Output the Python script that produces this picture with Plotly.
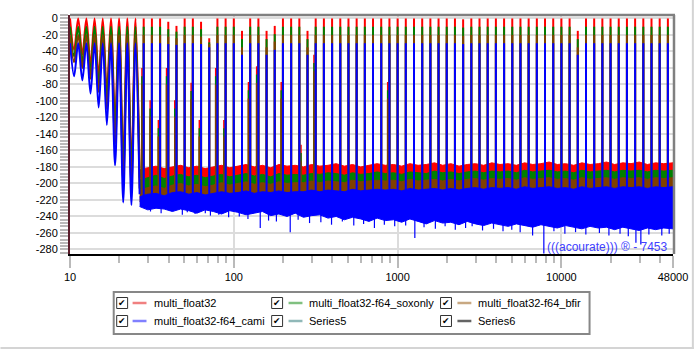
import math
import plotly.graph_objects as go

# ---------------------------------------------------------------- data
series_names = ["multi_float32", "multi_float32-f64_soxonly", "multi_float32-f64_bfir",
                "multi_float32-f64_cami", "Series5", "Series6"]
line_colors = ["#ff0000", "#008000", "#804000", "#0000ff"]
swatch_colors = ["#f08080", "#80c080", "#c8a882", "#8080ff", "#90b8b8", "#646464"]

# multitone frequencies, 20 per decade (Hz)
tone_freq = [10.0, 11.22, 12.59, 14.13, 15.85, 17.78, 19.95, 22.39, 25.12, 28.18,
             31.62, 35.48, 39.81, 44.67, 50.12, 56.23, 63.10, 70.79, 79.43, 89.13,
             100.0, 112.2, 125.9, 141.3, 158.5, 177.8, 199.5, 223.9, 251.2, 281.8,
             316.2, 354.8, 398.1, 446.7, 501.2, 562.3, 631.0, 707.9, 794.3, 891.3,
             1000, 1122, 1259, 1413, 1585, 1778, 1995, 2239, 2512, 2818,
             3162, 3548, 3981, 4467, 5012, 5623, 6310, 7079, 7943, 8913,
             10000, 11220, 12589, 14125, 15849, 17783, 19953, 22387, 25119, 28184,
             31623, 35481, 39811, 44668]

# tone peak levels (dB)
red_peak = [0, 0, 0, 0, 0, 0, 0, 0, 0, 0,
            0, 0, -4, -9, 0, 0, -4, -24, 0, 0,
            0, -15, 0, 0, -15, -9, 0, 0, 0, -15,
            0, 0, 0, 0, 0, 0, 0, 0, 0, 0,
            0, 0, 0, 0, 0, 0, 0, 0, -1, 0,
            0, 0, 0, 0, 0, 0, 0, 0, 0, 0,
            0, 0, -15, 0, 0, 0, 0, 0, 0, 0,
            0, 0, 0, 0]
green_peak = [-10, -10, -10, -10, -10, -10, -10, -10, -10, -10,
              -10, -10, -13, -16, -10, -10, -13, -29, -10, -10,
              -10, -25, -10, -10, -25, -19, -10, -10, -10, -25,
              -10, -10, -10, -10, -10, -10, -10, -10, -10, -10,
              -10, -10, -10, -10, -10, -10, -10, -10, -11, -10,
              -10, -10, -10, -10, -10, -10, -10, -10, -10, -10,
              -10, -10, -25, -10, -10, -10, -10, -10, -10, -10,
              -10, -10, -10, -10]
brown_peak = [-20, -20, -20, -20, -20, -20, -20, -20, -20, -20,
              -20, -20, -22, -24, -20, -20, -22, -31, -20, -20,
              -20, -35, -20, -20, -35, -28, -20, -20, -20, -35,
              -20, -20, -20, -20, -20, -20, -20, -20, -20, -20,
              -20, -20, -20, -20, -20, -20, -20, -20, -21, -20,
              -20, -20, -20, -20, -20, -20, -20, -20, -20, -20,
              -20, -20, -35, -20, -20, -20, -20, -20, -20, -20,
              -20, -20, -20, -20]
blue_peak = [-30, -30, -30, -30, -30, -30, -30, -30, -30, -30,
             -30, -30, -31, -32, -30, -30, -31, -35, -30, -30,
             -30, -44, -30, -30, -44, -38, -30, -30, -30, -44,
             -30, -30, -30, -30, -30, -30, -30, -30, -30, -30,
             -30, -30, -30, -30, -30, -30, -30, -30, -31, -30,
             -30, -30, -30, -30, -30, -30, -30, -30, -30, -30,
             -30, -30, -44, -30, -30, -30, -30, -30, -30, -30,
             -30, -30, -30, -30]

# minima between the lowest tones (Hz, dB)
dip_freq = [10.59, 11.89, 13.34, 14.96, 16.79, 18.84, 21.13, 23.71, 26.61]
red_dip = [-38, -44, -56, -70, -88, -125, -172, -180, -182]
green_dip = [-46, -53, -65, -80, -99, -138, -186, -190, -193]
brown_dip = [-53, -60, -73, -89, -110, -152, -200, -204, -206]
blue_dip = [-70, -75, -91, -108, -129, -178, -223, -226, -213]

# noise floor envelopes (Hz, dB)
noise_freq = [26.61, 29.85, 33.50, 37.58, 42.17, 47.32, 53.09, 59.57, 66.83, 74.99,
              84.14, 94.41, 105.9, 118.9, 133.4, 149.6, 167.9, 188.4, 211.3, 237.1,
              266.1, 298.5, 335.0, 375.8, 421.7, 473.2, 530.9, 595.7, 668.3, 749.9,
              841.4, 944.1, 1059, 1189, 1334, 1496, 1679, 1884, 2113, 2371,
              2661, 2985, 3350, 3758, 4217, 4732, 5309, 5957, 6683, 7499,
              8414, 9441, 10593, 11885, 13335, 14962, 16788, 18836, 21135, 23714,
              26607, 29854, 33497, 37584, 42170, 48000]
red_top = [-183, -181, -179, -182, -180, -178, -181, -179, -182, -180,
           -178, -181, -179, -177, -180, -178, -181, -177, -179, -178,
           -180, -177, -179, -178, -176, -179, -177, -180, -178, -176,
           -178, -177, -179, -176, -178, -177, -175, -178, -176, -179,
           -177, -176, -178, -175, -177, -176, -178, -175, -177, -176,
           -174, -177, -176, -178, -175, -177, -176, -174, -177, -175,
           -176, -174, -177, -175, -176, -175]
green_top = [-196, -193, -190, -194, -191, -189, -192, -190, -193, -191,
             -189, -192, -190, -188, -191, -189, -192, -188, -190, -189,
             -190, -188, -189, -187, -188, -190, -187, -189, -188, -186,
             -188, -187, -189, -186, -187, -188, -185, -187, -186, -188,
             -186, -185, -187, -185, -186, -185, -187, -184, -186, -185,
             -184, -186, -185, -187, -184, -186, -185, -184, -186, -184,
             -185, -184, -186, -184, -185, -184]
brown_top = [-208, -205, -203, -206, -202, -200, -203, -201, -204, -202,
             -199, -202, -200, -198, -201, -199, -201, -198, -200, -199,
             -199, -197, -199, -197, -198, -199, -196, -198, -197, -196,
             -197, -196, -198, -195, -197, -196, -195, -197, -195, -197,
             -195, -194, -196, -194, -195, -194, -196, -193, -195, -194,
             -193, -195, -194, -196, -193, -195, -194, -193, -195, -193,
             -194, -193, -195, -193, -194, -193]
blue_top = [-216, -213, -212, -215, -211, -210, -213, -211, -214, -212,
            -210, -212, -211, -209, -212, -210, -211, -209, -211, -210,
            -210, -208, -210, -208, -209, -210, -207, -209, -208, -207,
            -208, -207, -209, -206, -208, -207, -206, -208, -206, -208,
            -206, -205, -207, -205, -206, -205, -207, -204, -206, -205,
            -204, -206, -205, -207, -204, -206, -205, -204, -206, -204,
            -205, -204, -206, -204, -205, -204]
blue_low = [-228, -232, -230, -231, -234, -231, -233, -236, -232, -234,
            -237, -233, -235, -238, -236, -234, -239, -237, -240, -236,
            -241, -239, -238, -242, -240, -244, -241, -243, -246, -242,
            -245, -244, -247, -243, -246, -249, -245, -248, -247, -250,
            -246, -249, -251, -248, -250, -252, -249, -251, -253, -250,
            -252, -254, -251, -253, -255, -252, -254, -253, -256, -253,
            -255, -257, -254, -256, -254, -255]
band_floor = [-198, -210, -222, -226]

# side components next to some tones (Hz, dB)
spur_freq = [27.5, 30.86, 34.63, 38.86, 43.6, 54.88, 61.59, 77.52, 86.99,
             122.9, 137.9, 194.7, 257.2, 308.6, 869.9]
red_spur = [-60, -99, -123, -60, -99, -78, -123, -60, -123, -77, -58, -77, -153, -44, -77]
green_spur = [-70, -109, -133, -70, -109, -88, -133, -70, -133, -87, -68, -87, -163, -54, -87]
brown_spur = [-80, -119, -143, -80, -119, -98, -143, -80, -143, -97, -78, -97, -173, -64, -97]

# deep noise excursions of the f64_cami trace (Hz, dB)
spike_freq = [31, 36, 41, 48.5, 52, 58, 67, 72, 81, 93,
              108, 122, 145, 163, 182, 221, 247, 290, 340, 395,
              460, 540, 620, 722, 830, 960, 1120, 1274, 1450, 1700,
              1950, 2250, 2600, 2851, 3300, 3850, 4400, 4977, 5600, 6670,
              7811, 9000, 10500, 12200, 14100, 17060, 19500, 22800, 25600, 28500,
              30550, 34200, 37670, 41000, 45500]
blue_spike = [-234, -236, -233, -238, -235, -237, -236, -239, -238, -241,
              -240, -243, -254, -245, -246, -259, -244, -248, -247, -250,
              -246, -251, -249, -254, -250, -252, -251, -266, -253, -255,
              -252, -256, -254, -252, -257, -255, -258, -256, -259, -263,
              -285, -258, -261, -259, -262, -260, -263, -261, -264, -272,
              -274, -262, -254, -263, -261]

# axis ticks
x_ticks = [10, 100, 1000, 10000, 48000]
x_tick_text = ["10", "100", "1000", "10000", "48000"]
y_ticks = [0, -20, -40, -60, -80, -100, -120, -140, -160, -180, -200, -220, -240, -260, -280]
y_tick_text = [str(v) for v in y_ticks]

# ---------------------------------------------------------------- figure
L, R, T, B = 70, 677, 15, 254
W, H = R - L, B - T


def px_x(px):
    return (px - L) / W


def px_y(py):
    return (B - py) / H


fig = go.Figure()

peaks = [red_peak, green_peak, brown_peak, blue_peak]
dips = [red_dip, green_dip, brown_dip, blue_dip]
tops = [red_top, green_top, brown_top, blue_top]
spurs = [red_spur, green_spur, brown_spur, None]

for s in range(4):
    color = line_colors[s]
    peak = peaks[s]
    floor = band_floor[s]

    # noise band
    if s == 3:
        lower = blue_low
    else:
        lower = [floor] * len(noise_freq)
    fig.add_trace(go.Scatter(
        x=noise_freq + noise_freq[::-1], y=tops[s] + lower[::-1],
        mode="lines", fill="toself", fillcolor=color,
        line=dict(color=color, width=1), hoverinfo="skip"))

    if s == 3:
        sx, sy = [], []
        for f, v in zip(spike_freq, blue_spike):
            sx += [f, f, None]
            sy += [-225, v, None]
        fig.add_trace(go.Scatter(x=sx, y=sy, mode="lines",
                                 line=dict(color=color, width=1.2), hoverinfo="skip"))

    # low-frequency lobes
    ax, ay = [], []
    for k in range(len(dip_freq)):
        ax += [tone_freq[k], dip_freq[k]]
        ay += [peak[k], dips[s][k]]
    fig.add_trace(go.Scatter(x=ax, y=ay, mode="lines",
                             line=dict(color=color, width=2, shape="spline", smoothing=0.9),
                             hoverinfo="skip"))

    # side components
    if spurs[s] is not None:
        px_, py_ = [], []
        for f, v in zip(spur_freq, spurs[s]):
            px_ += [f, f, None]
            py_ += [floor, v, None]
        fig.add_trace(go.Scatter(x=px_, y=py_, mode="lines",
                                 line=dict(color=color, width=1.5), hoverinfo="skip"))

    # tone lines
    tx, ty = [], []
    for k in range(len(dip_freq), len(tone_freq)):
        tx += [tone_freq[k], tone_freq[k], None]
        ty += [floor, peak[k], None]
    fig.add_trace(go.Scatter(x=tx, y=ty, mode="lines",
                             line=dict(color=color, width=2), hoverinfo="skip"))

grid_c = "#dcdcdc"
tick_c = "#bababa"
fig.update_layout(
    width=700, height=350,
    margin=dict(l=L, r=700 - R, t=T, b=350 - B),
    paper_bgcolor="white", plot_bgcolor="white",
    showlegend=False,
    font=dict(family="Liberation Sans", size=11, color="#000000"),
    xaxis=dict(
        type="log", range=[1, math.log10(48000)],
        tickmode="array", tickvals=x_ticks, ticktext=x_tick_text,
        showgrid=True, gridcolor=grid_c, gridwidth=2,
        showline=True, linecolor="#000000", linewidth=2,
        ticks="outside", ticklen=12, tickwidth=2, tickcolor=tick_c,
        minor=dict(tickmode="array",
                   tickvals=[m * d for d in (10, 100, 1000) for m in range(2, 10)] + [20000, 30000, 40000],
                   ticks="outside", ticklen=7, tickwidth=2, tickcolor=tick_c, showgrid=False),
        zeroline=False, fixedrange=True,
    ),
    yaxis=dict(
        range=[-285.5, 4.2],
        tickmode="array", tickvals=y_ticks, ticktext=y_tick_text,
        showgrid=True, gridcolor=grid_c, gridwidth=2,
        showline=True, linecolor="#5a1d2b", linewidth=2,
        ticks="outside", ticklen=8, tickwidth=2, tickcolor=tick_c,
        minor=dict(tick0=0, dtick=4, ticks="outside", ticklen=8, tickwidth=2,
                   tickcolor=tick_c, showgrid=False),
        zeroline=False, fixedrange=True,
    ),
)

shapes = []
# plot frame (top and right)
shapes.append(dict(type="line", xref="paper", yref="paper",
                   x0=px_x(L), x1=px_x(R + 2), y0=px_y(T), y1=px_y(T),
                   line=dict(color="#808080", width=2.5), layer="above"))
shapes.append(dict(type="line", xref="paper", yref="paper",
                   x0=px_x(R + 1), x1=px_x(R + 1), y0=px_y(T), y1=px_y(B),
                   line=dict(color="#808080", width=2.5), layer="above"))
# outer panel edge
shapes.append(dict(type="line", xref="paper", yref="paper",
                   x0=px_x(697), x1=px_x(697), y0=px_y(0), y1=px_y(349),
                   line=dict(color="#d4d4d4", width=2), layer="above"))
shapes.append(dict(type="line", xref="paper", yref="paper",
                   x0=px_x(0), x1=px_x(698), y0=px_y(348), y1=px_y(348),
                   line=dict(color="#d4d4d4", width=2), layer="above"))

annotations = []
annotations.append(dict(text="(((acourate))) ® - 7453", xref="paper", yref="paper",
                        x=px_x(674), y=px_y(247), xanchor="right", yanchor="middle",
                        showarrow=False,
                        font=dict(family="Liberation Sans", size=12, color="#4040ff")))

# legend panel
shapes.append(dict(type="rect", xref="paper", yref="paper",
                   x0=px_x(114), x1=px_x(593), y0=px_y(292), y1=px_y(334),
                   line=dict(color="#878787", width=2), fillcolor="white", layer="above"))
col_box = [117, 273, 443]
col_swatch = [133, 290, 460]
col_text = [153, 309, 479]
row_y = [303, 321]
for i, name in enumerate(series_names):
    r, c = divmod(i, 3)
    cy = row_y[r]
    shapes.append(dict(type="rect", xref="paper", yref="paper",
                       x0=px_x(col_box[c]), x1=px_x(col_box[c] + 11),
                       y0=px_y(cy - 5.5), y1=px_y(cy + 5.5),
                       line=dict(color="#333333", width=1), fillcolor="white", layer="above"))
    annotations.append(dict(text="✔", xref="paper", yref="paper",
                            x=px_x(col_box[c] + 5.5), y=px_y(cy), xanchor="center", yanchor="middle",
                            showarrow=False, font=dict(family="DejaVu Sans", size=9, color="#000000")))
    shapes.append(dict(type="line", xref="paper", yref="paper",
                       x0=px_x(col_swatch[c]), x1=px_x(col_swatch[c] + 14),
                       y0=px_y(cy), y1=px_y(cy),
                       line=dict(color=swatch_colors[i], width=2.5), layer="above"))
    annotations.append(dict(text=name, xref="paper", yref="paper",
                            x=px_x(col_text[c]), y=px_y(cy), xanchor="left", yanchor="middle",
                            showarrow=False,
                            font=dict(family="Liberation Sans", size=11, color="#000000")))

fig.update_layout(shapes=shapes, annotations=annotations)
fig.write_html("out.html")
